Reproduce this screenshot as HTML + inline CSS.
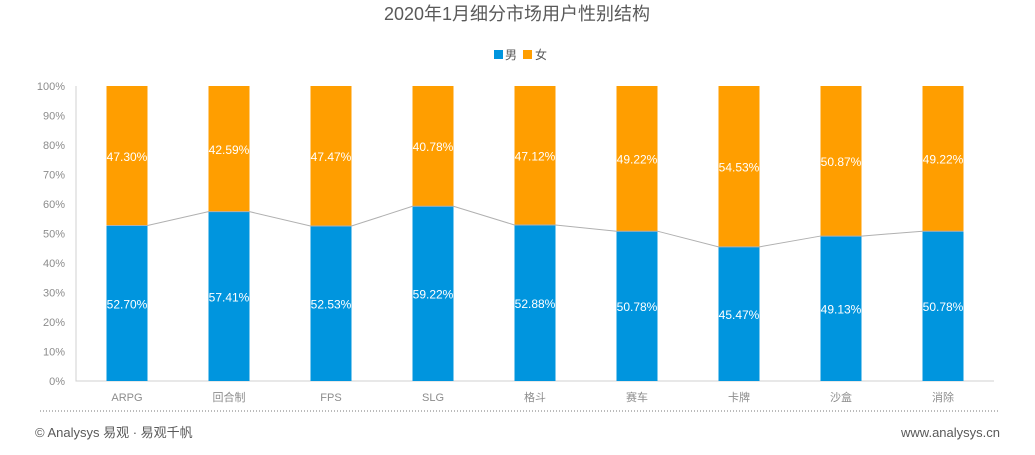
<!DOCTYPE html>
<html><head><meta charset="utf-8"><style>
body{margin:0;background:#fff;font-family:"Liberation Sans","Noto Sans CJK SC",sans-serif;}
svg text{font-family:"Liberation Sans","Noto Sans CJK SC",sans-serif;}
</style></head><body>
<svg id="c" width="1035" height="450" xmlns="http://www.w3.org/2000/svg">
<text x="517" y="20" text-anchor="middle" font-size="18" fill="#595959">2020年1月细分市场用户性别结构</text>
<g>
<rect x="494" y="50" width="9" height="9" fill="#0095DE"/>
<text x="505" y="59" font-size="12" fill="#595959">男</text>
<rect x="523" y="50" width="9" height="9" fill="#FF9E00"/>
<text x="535" y="59" font-size="12" fill="#595959">女</text>
</g>
<g id="plot"></g>
<line x1="40" y1="411" x2="1000" y2="411" stroke="#777" stroke-dasharray="1,2"/>
<text x="35" y="437" font-size="13" fill="#595959">© Analysys 易观 · 易观千帆</text>
<text x="1000" y="437" font-size="13" fill="#595959" text-anchor="end">www.analysys.cn</text>
</svg>
<script>
const categories=["ARPG","回合制","FPS","SLG","格斗","赛车","卡牌","沙盒","消除"];
const maleValues=[52.70,57.41,52.53,59.22,52.88,50.78,45.47,49.13,50.78];
const femaleValues=[47.30,42.59,47.47,40.78,47.12,49.22,54.53,50.87,49.22];
const yTicks=[0,10,20,30,40,50,60,70,80,90,100];
const NS="http://www.w3.org/2000/svg";
const g=document.getElementById('plot');
const x0=76,x1=994,y0=381,y1=86;
const step=(x1-x0)/categories.length;
const xc=i=>x0+step*(i+0.5);
const yv=v=>y0-(y0-y1)*v/100;
function mk(t,a){const e=document.createElementNS(NS,t);for(const k in a)e.setAttribute(k,a[k]);g.appendChild(e);return e;}
yTicks.forEach(t=>{
 const tx=mk('text',{x:65,y:yv(t)+4,'text-anchor':'end','font-size':11,fill:'#8c8c8c'});
 
 
 tx.textContent=t+'%';
});
const ax=mk('polyline',{points:`${x0},${y1} ${x0},${y0} ${x1},${y0}`,fill:'none',stroke:'#d0d0d0'});


const bw=41;
categories.forEach((c,i)=>{
 const m=maleValues[i],f=femaleValues[i];
 const b=mk('rect',{x:xc(i)-bw/2,y:yv(m),width:bw,height:y0-yv(m),fill:'#0095DE'});
 
 
 const o=mk('rect',{x:xc(i)-bw/2,y:yv(m+f),width:bw,height:yv(m)-yv(m+f),fill:'#FF9E00'});
 
 
 const lm=mk('text',{x:xc(i),y:(yv(m)+y0)/2+5,'text-anchor':'middle','font-size':12,fill:'#fff'});
 
 
 lm.textContent=m.toFixed(2)+'%';
 const lf=mk('text',{x:xc(i),y:(yv(m)+yv(m+f))/2+5,'text-anchor':'middle','font-size':12,fill:'#fff'});
 
 
 lf.textContent=f.toFixed(2)+'%';
 const cl=mk('text',{x:xc(i),y:401,'text-anchor':'middle','font-size':11,fill:'#8c8c8c'});
 
 
 cl.textContent=c;
});
const pts=[];
maleValues.forEach((m,i)=>{pts.push(`${xc(i)-bw/2},${yv(m)}`,`${xc(i)+bw/2},${yv(m)}`);});
const ln=mk('polyline',{points:pts.join(' '),fill:'none',stroke:'#b0b0b0','stroke-width':1});


</script>
</body></html>
